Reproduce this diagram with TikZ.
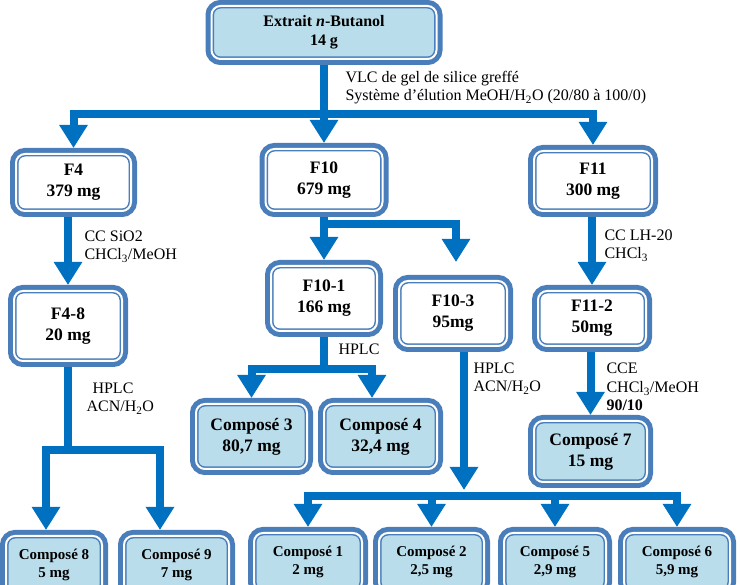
\documentclass[tikz,border=0pt]{standalone}
\usepackage{fontspec}
\setmainfont{Liberation Serif}
\usetikzlibrary{arrows.meta}
\definecolor{arrowblue}{RGB}{0,112,192}
\definecolor{boxblue}{RGB}{74,126,187}
\definecolor{cpdfill}{RGB}{185,221,234}
\newcommand{\sub}[1]{\textsubscript{#1}}
\tikzset{
  dbox/.style={rectangle, rounded corners=9pt, inner sep=0pt, outer sep=6pt, align=center,
    draw=boxblue, line width=1.5pt, double=white, double distance=2pt,
    preaction={draw=boxblue, line width=12pt}},
  fracbox/.style={dbox, fill=white, font=\fontsize{17.5}{21}\selectfont\bfseries},
  topbox/.style={dbox, fill=cpdfill, font=\fontsize{16}{19}\selectfont\bfseries},
  cpdbox/.style={dbox, fill=cpdfill, font=\fontsize{17.5}{21}\selectfont\bfseries},
  smallcpd/.style={dbox, fill=cpdfill, font=\fontsize{15}{18}\selectfont\bfseries},
  lbl/.style={anchor=base west, align=left, font=\fontsize{16}{18.5}\selectfont},
  bar/.style={draw=arrowblue, line width=8pt},
  flow/.style={bar, -{Triangle[width=27pt,length=23pt]}}
}

\begin{document}
\begin{tikzpicture}[x=1pt,y=-1pt]
  \useasboundingbox (0,0) rectangle (740,585);

  % extrait et fractions VLC
  \node (top) at (324,32.5) [topbox, minimum width=225pt, minimum height=53pt] {Extrait \textit{n}-Butanol\\14 g};
  \node (F4) at (73.5,182.5) [fracbox, minimum width=115pt, minimum height=57pt] {F4\\379 mg};
  \node (F10) at (324,180) [fracbox, minimum width=117pt, minimum height=62pt] {F10\\679 mg};
  \node (F11) at (593,181) [fracbox, minimum width=118pt, minimum height=60pt] {F11\\300 mg};

  % sous-fractions
  \node (F48) at (68,326) [fracbox, minimum width=108pt, minimum height=70pt] {F4-8\\20 mg};
  \node (F101) at (324,298.5) [fracbox, minimum width=106pt, minimum height=65pt] {F10-1\\166 mg};
  \node (F103) at (453,313.5) [fracbox, minimum width=108pt, minimum height=65pt] {F10-3\\95mg};
  \node (F112) at (592,318.5) [fracbox, minimum width=108pt, minimum height=55pt] {F11-2\\50mg};

  % composes
  \node (C3) at (251.5,436.5) [cpdbox, minimum width=111pt, minimum height=65pt] {Composé 3\\80,7 mg};
  \node (C4) at (380.5,436.5) [cpdbox, minimum width=113pt, minimum height=65pt] {Composé 4\\32,4 mg};
  \node (C7) at (590.5,451.5) [cpdbox, minimum width=113pt, minimum height=61pt] {Composé 7\\15 mg};
  \node (C8) at (54,565) [smallcpd, minimum width=96pt, minimum height=58pt] {Composé 8\\5 mg};
  \node (C9) at (176.5,565) [smallcpd, minimum width=105pt, minimum height=58pt] {Composé 9\\7 mg};
  \node (C1) at (308,562) [smallcpd, minimum width=108pt, minimum height=58pt] {Composé 1\\2 mg};
  \node (C2) at (431.5,562) [smallcpd, minimum width=105pt, minimum height=58pt] {Composé 2\\2,5 mg};
  \node (C5) at (555,562) [smallcpd, minimum width=102pt, minimum height=58pt] {Composé 5\\2,9 mg};
  \node (C6) at (677,562) [smallcpd, minimum width=106pt, minimum height=58pt] {Composé 6\\5,9 mg};

  % points de branchement
  \coordinate (split0) at (324,114);
  \coordinate (split48) at (68,450);
  \coordinate (split10) at (324,224);
  \coordinate (split101) at (324,369.5);
  \coordinate (bus) at (464,496);

  % fleches
  \draw[flow] (top.south) -- (F10.north);
  \draw[flow] (split0) -| (F4.north);
  \draw[flow] (split0) -| (F11.north);

  \draw[flow] (F48.north |- F4.south) -- (F48.north);
  \draw[bar] (F48.south) -- (split48);
  \draw[flow] (split48) -| ([xshift=-8pt]C8.north);
  \draw[flow] (split48) -| ([xshift=-16.5pt]C9.north);

  \draw[flow] (F10.south) -- (F101.north);
  \draw[flow] (split10) -| ([xshift=3pt,yshift=13pt]F103.north);
  \draw[bar] (F101.south) -- (split101);
  \draw[flow] (split101) -| (C3.north);
  \draw[flow] (split101) -| ([xshift=-8.5pt]C4.north);

  \draw[flow] ([xshift=11pt]F103.south) -- ([yshift=6pt]bus);
  \draw[flow] (bus) -| (C1.north);
  \draw[flow] (bus) -| (C6.north);
  \foreach \c in {C2,C5}
  {
    \draw[flow] (bus -| \c.north) -- (\c.north);
  }

  \draw[flow] (F112.north |- F11.south) -- (F112.north);
  \draw[flow] (C7.north |- F112.south) -- (C7.north);

  % conditions (base = derniere ligne)
  \node (lblVLC) at (342,101) [lbl] {VLC de gel de silice greffé\\ Système d’élution MeOH/H\sub{2}O (20/80 à 100/0)};
  \node (lblF4) at (81,260) [lbl] {CC SiO2\\CHCl\sub{3}/MeOH};
  \node (lblF48) at (83,412) [lbl] {\hspace*{6pt}HPLC\\ACN/H\sub{2}O};
  \node (lblF101) at (335,355) [lbl] {HPLC};
  \node (lblF103) at (470,392) [lbl] {HPLC\\ACN/H\sub{2}O};
  \node (lblF11) at (601,259) [lbl] {CC LH-20\\CHCl\sub{3}};
  \node (lblF112) at (603,411) [lbl] {CCE\\CHCl\sub{3}/MeOH\\\textbf{90/10}};
\end{tikzpicture}
\end{document}
